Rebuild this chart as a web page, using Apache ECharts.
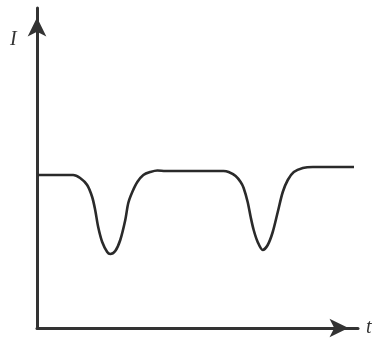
<!DOCTYPE html>
<html>
<head>
<meta charset="utf-8">
<script src="https://cdn.jsdelivr.net/npm/echarts@6/dist/echarts.min.js"></script>
<style>
  html, body { margin: 0; padding: 0; background: #fff; }
  #chart { width: 375px; height: 340px; }
</style>
</head>
<body>
<div id="chart"></div>
<script>
// time values (t) and intensity values (I)
const tValues = [0.1, 3.6, 4.3, 5.0, 5.5, 5.8, 6.1, 6.5, 7.0, 7.3, 7.8, 8.3, 8.8, 9.1, 9.5, 10.0,
                 10.6, 11.3, 12.0, 12.8,
                 18.6, 19.1, 19.8, 20.3, 20.6, 21.0, 21.3, 21.6, 22.0, 22.5, 23.0, 23.5, 24.0,
                 24.5, 25.0, 25.6, 26.5, 27.5, 28.8, 31.6];
const iValues = [15.3, 15.3, 15.0, 14.3, 13.1, 11.8, 10.1, 8.6, 7.6, 7.4, 7.7, 8.8, 10.8, 12.5, 13.6, 14.6,
                 15.3, 15.6, 15.75, 15.7,
                 15.7, 15.6, 15.2, 14.6, 14.0, 12.6, 11.1, 9.8, 8.6, 7.8, 8.3, 9.6, 11.6,
                 13.6, 14.8, 15.6, 16.0, 16.1, 16.1, 16.1];
const xName = 't';
const yName = 'I';

const chart = echarts.init(document.getElementById('chart'));

const axisLine = {
    show: true,
    symbol: ['none', 'arrow'],
    symbolSize: [14, 19],
    symbolOffset: [0, -9.5],
    lineStyle: { color: '#333', width: 3 }
};

chart.setOption({
    animation: false,
    backgroundColor: '#fff',
    grid: { left: 37, right: 17, top: 8, bottom: 12 },
    xAxis: {
        type: 'value', min: 0, max: 32,
        name: xName, nameLocation: 'end', nameGap: 8,
        nameTextStyle: { fontFamily: 'Liberation Serif', fontStyle: 'italic', fontSize: 20, color: '#333' },
        axisLine: axisLine,
        axisTick: { show: false }, axisLabel: { show: false }, splitLine: { show: false }
    },
    yAxis: {
        type: 'value', min: 0, max: 32,
        axisLine: axisLine,
        axisTick: { show: false }, axisLabel: { show: false }, splitLine: { show: false }
    },
    graphic: [{
        type: 'text', left: 10, top: 30,
        style: { text: yName, font: 'italic 20px "Liberation Serif"', fill: '#333' }
    }],
    series: [{
        type: 'line',
        data: tValues.map((t, i) => [t, iValues[i]]),
        smooth: 0.3,
        symbol: 'none',
        clip: false,
        lineStyle: { color: '#2a2a2a', width: 2.6 }
    }]
});
</script>
</body>
</html>
